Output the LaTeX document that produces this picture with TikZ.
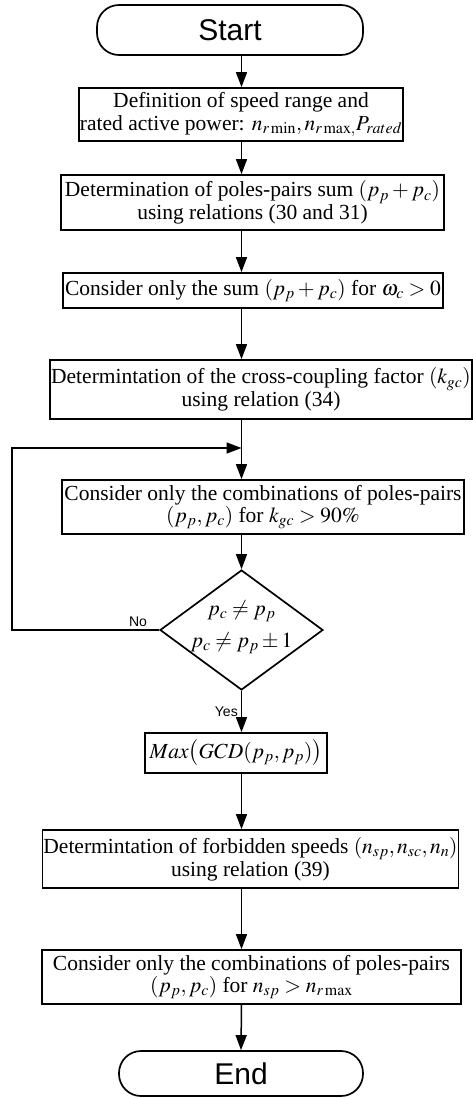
\documentclass[tikz,border=0pt]{standalone}
\usepackage{amsmath}
\usepackage{amssymb}
\usepackage{mathptmx}
\usepackage{fontspec}
\setmainfont{Liberation Serif}
\setsansfont{Liberation Sans}
\usepackage{tikz}
\usetikzlibrary{arrows.meta, positioning, calc, shapes.geometric}

\begin{document}
\begin{tikzpicture}[
  x=1pt, y=-1pt,
  % Process boxes keep their own widths; the arrows all run down one column.
  box/.style={draw, line width=1.7pt, align=center, inner sep=1pt,
              font=\fontsize{21.5}{22.5}\selectfont},
  term/.style={draw, line width=1.7pt, rounded corners=22pt,
               font=\sffamily\fontsize{30}{32}\selectfont},
  decide/.style={draw, diamond, line width=1.7pt, aspect=1.36, inner sep=-16pt,
                 minimum width=163pt, minimum height=120pt, align=center,
                 font=\fontsize{21.5}{22.5}\selectfont},
  arr/.style={-{Triangle[length=15pt, width=11pt]}, line width=1.5pt},
  lbl/.style={font=\sffamily\fontsize{14}{16}\selectfont, inner sep=1pt}
]
\useasboundingbox (0,0) rectangle (473,1098);

% --- Arrow column ---
\coordinate (col) at (241.5,0);

% --- Start ---
\node[term, minimum width=266pt, minimum height=50pt] (start) at (230,30) {Start};

% --- Setup steps ---
\node[box, minimum width=304pt, minimum height=53pt] (def) at (241,114.5)
  {Definition of speed range and\\
   rated active power: $n_{r\min}, n_{r\max,} P_{rated}$};
\node[box, minimum width=383pt, minimum height=55pt] (sum) at (252.5,202.5)
  {Determination of poles-pairs sum $(p_p + p_c)$\\
   using relations (30 and 31)};
\node[box, minimum width=380pt, minimum height=35pt] (only) at (253,290.5)
  {Consider only the sum $(p_p + p_c)$ for $\omega_c > 0$};
\node[box, minimum width=422pt, minimum height=59pt] (kgc) at (261,389.5)
  {Determintation of the cross-coupling factor $(k_{gc})$\\
   using relation (34)};

% --- Loop over combinations ---
\coordinate (join) at (241.5,448);
\node[box, minimum width=402pt, minimum height=54pt] (comb) at (263,507)
  {Consider only the combinations of poles-pairs\\
   $(p_p, p_c)$ for $k_{gc} > 90\%$};
\node[decide] (dec) at (241.5,630)
  {\raisebox{4pt}{$p_c \neq p_p$}\\[5pt]
   $p_c \neq p_p \pm 1$\rule[-12pt]{0pt}{1pt}};
\node[box, minimum width=182pt, minimum height=40pt] (gcd) at (236,753)
  {$Max\bigl(GCD(p_p, p_p)\bigr)$};

% --- Forbidden speeds ---
\node[box, minimum width=415pt, minimum height=58pt] (forb) at (250.5,859)
  {Determintation of forbidden speeds $(n_{sp}, n_{sc}, n_n)$\\
   using relation (39)};
\node[box, minimum width=419pt, minimum height=54pt] (last) at (251.5,977)
  {Consider only the combinations of poles-pairs\\
   $(p_p, p_c)$ for $n_{sp} > n_{r\max}$};

% --- End ---
\node[term, minimum width=244pt, minimum height=45pt] (end) at (241,1073.5) {End};

% --- Main arrows ---
\draw[arr] (start.south -| col) -- (def.north -| col);
\draw[arr] (def.south -| col) -- (sum.north -| col);
\draw[arr] (sum.south -| col) -- (only.north -| col);
\draw[arr] (only.south -| col) -- (kgc.north -| col);
\draw[arr] (kgc.south -| col) -- (comb.north -| col);
\draw[arr] (comb.south -| col) -- (dec.north);
\draw[arr] (dec.south) -- node[lbl, left=2pt] {Yes} (gcd.north -| col);
\draw[arr] (gcd.south -| col) -- (forb.north -| col);
\draw[arr] (forb.south -| col) -- (last.north -| col);
\draw[arr] (last.south -| col) -- (end.north);

% --- No branch back to the loop ---
\coordinate (back) at (12,448);
\draw[arr] (dec.west) -| (back) -- (join);
\node[lbl, anchor=south east] (no) at ($(dec.west)+(-11,-2)$) {No};

\end{tikzpicture}
\end{document}
